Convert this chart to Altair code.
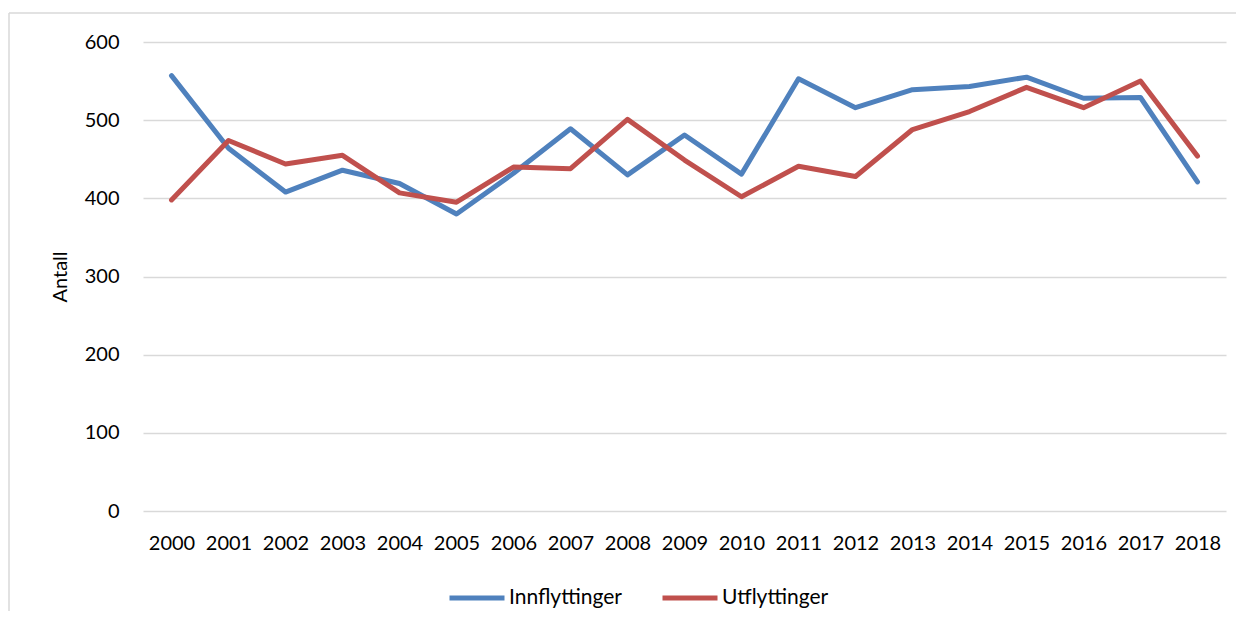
import altair as alt
import pandas as pd

years = [str(y) for y in range(2000, 2019)]
innflyttinger = [557, 464, 408, 436, 419, 380, 432, 489, 430, 481, 431, 553, 516, 539, 543, 555, 528, 529, 421]
utflyttinger = [398, 474, 444, 455, 407, 395, 440, 438, 501, 449, 402, 441, 428, 488, 511, 542, 516, 550, 454]
series_names = ["Innflyttinger", "Utflyttinger"]
colors = ["#4F81BD", "#C0504D"]

rows = []
for name, vals in zip(series_names, [innflyttinger, utflyttinger]):
    for yr, v in zip(years, vals):
        rows.append({"År": yr, "Antall": v, "Serie": name})
df = pd.DataFrame(rows)

FONT = "Lato"

lines = alt.Chart(df).mark_line(strokeWidth=5, strokeCap="round", strokeJoin="round").encode(
    x=alt.X("År:O", sort=years, title=None,
            scale=alt.Scale(type="point", padding=0.5),
            axis=alt.Axis(labelAngle=0, ticks=False, domain=False, grid=False,
                          labelPadding=22, labelFontSize=20, labelFont=FONT, labelColor="#000000")),
    y=alt.Y("Antall:Q", title="Antall",
            scale=alt.Scale(domain=[0, 600]),
            axis=alt.Axis(values=[0, 100, 200, 300, 400, 500, 600], ticks=False, domain=False,
                          gridColor="#D9D9D9", gridWidth=1.5,
                          labelPadding=24, labelFontSize=20, labelFont=FONT, labelColor="#000000",
                          titleFontSize=20, titleFont=FONT, titleFontWeight="normal",
                          titleColor="#000000", titlePadding=14)),
    color=alt.Color("Serie:N", sort=series_names,
                    scale=alt.Scale(domain=series_names, range=colors),
                    legend=alt.Legend(title=None, orient="none", direction="horizontal",
                                      legendX=304, legendY=526,
                                      symbolType="stroke", symbolStrokeWidth=5, symbolSize=3025,
                                      labelFontSize=21, labelFont=FONT, labelColor="#000000",
                                      labelOffset=2, columnPadding=30)),
)

# decorative chart frame (top and left edges, as in the reference)
frame_df = pd.DataFrame({"k": [0]})
frame_top = alt.Chart(frame_df).mark_rule(color="#D9D9D9", strokeWidth=1.5).encode(
    x=alt.value(-134), x2=alt.value(1101), y=alt.value(-29))
frame_left = alt.Chart(frame_df).mark_rule(color="#D9D9D9", strokeWidth=1.5).encode(
    x=alt.value(-134), y=alt.value(-29), y2=alt.value(590))

chart = alt.layer(frame_top, frame_left, lines).properties(
    width=1083, height=469,
    autosize=alt.AutoSizeParams(type="none"),
    padding={"left": 135, "top": 34, "right": 10, "bottom": 100},
).configure(background="#FFFFFF").configure_view(stroke=None)

chart.save("out.html", embed_options={"renderer": "svg", "actions": False})
